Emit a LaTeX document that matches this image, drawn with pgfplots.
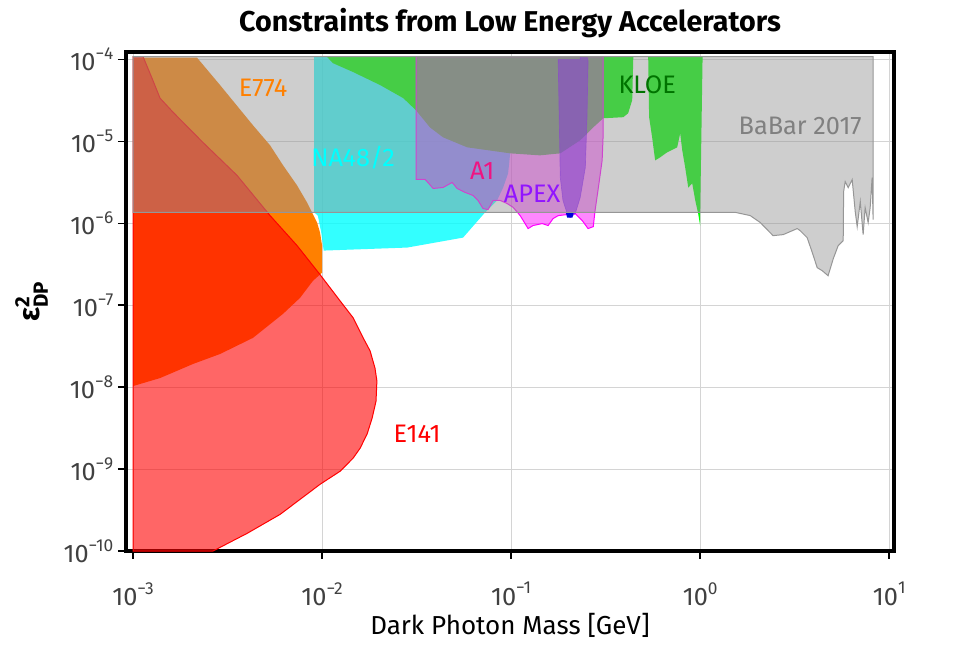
\documentclass[border=0pt]{standalone}
\usepackage{amsmath}
\usepackage{fontspec}
\setmainfont{Fira Sans}
\usepackage{pgfplots}
\pgfplotsset{compat=1.18}
\usetikzlibrary{calc}

\definecolor{cE774}{RGB}{255,128,0}
\definecolor{cNA}{RGB}{0,255,255}
\definecolor{cKLOE}{RGB}{0,255,0}
\definecolor{cKLOEtxt}{RGB}{0,115,0}
\definecolor{cA1}{RGB}{255,0,255}
\definecolor{cA1txt}{RGB}{240,20,130}
\definecolor{cAPEX}{RGB}{128,0,255}
\definecolor{cAPEXtxt}{RGB}{145,20,255}
\definecolor{cBaBar}{RGB}{150,150,150}
\definecolor{cBaBartxt}{RGB}{128,128,128}

% decade labels 10^n set in the text font
\newcommand\logexp{\pgfmathtruncatemacro\ex{round(\tick)}10\raisebox{0.45em}{\fontsize{13}{14}\selectfont\ifnum\ex<0 −\the\numexpr-\ex\relax\else\ex\fi}}

\begin{document}
\begin{tikzpicture}
\begin{axis}[
  scale only axis, width=576pt, height=374.25pt,
  xmode=log, ymode=log, log basis x=10, log basis y=10,
  xmin=9.18e-4, xmax=10.6, ymin=1e-10, ymax=1.23e-4,
  xtick={1e-3,1e-2,1e-1,1,10},
  ytick={1e-10,1e-9,1e-8,1e-7,1e-6,1e-5,1e-4},
  xticklabel={\logexp}, yticklabel={\logexp},
  tick label style={font=\fontsize{19}{21}\selectfont, text=black!75},
  xticklabel style={yshift=-14pt},
  xtick pos=bottom, ytick pos=left, tick align=outside,
  major tick length=6pt, minor tick length=3.5pt,
  every tick/.style={black, line width=1.1pt},
  axis line style={line width=3pt, black},
  grid=major, major grid style={line width=0.75pt, draw=black!17},
  title={Constraints from Low Energy Accelerators},
  title style={font=\fontsize{21.5}{24}\selectfont\bfseries, at={(axis description cs:0.5,1)}, anchor=base, yshift=9.5pt},
  xlabel={Dark Photon Mass [GeV]},
  xlabel style={font=\fontsize{19.5}{22}\selectfont, at={(axis description cs:0.5,-0.168)}, anchor=base},
  ylabel={\bfseries ε$^{\text{\bfseries 2}}_{\text{\bfseries DP}}$},
  ylabel style={font=\fontsize{22}{24}\selectfont, at={(axis description cs:-0.123,0.5)}, anchor=center},
]

% E774
\addplot[fill=cE774, draw=none] coordinates {
  (1e-3,1.05e-4) (2.18e-3,1.05e-4) (2.89e-3,4.84e-5) (4.31e-3,1.57e-5) (5.31e-3,8.93e-6)
  (6.22e-3,5.09e-6) (7.38e-3,2.89e-6) (8.33e-3,1.79e-6) (9.41e-3,1.02e-6) (9.76e-3,7.69e-7)
  (1.0e-2,5.35e-7) (1.0e-2,2.49e-7) (8.96e-3,1.99e-7) (7.65e-3,1.23e-7) (6.22e-3,7.85e-8)
  (4.31e-3,3.99e-8) (2.89e-3,2.54e-8) (2.08e-3,1.92e-8) (1.39e-3,1.29e-8) (1e-3,1.03e-8)
} -- cycle;

% E141
\addplot[fill=red, fill opacity=0.6, draw=red, line width=0.75pt] coordinates {
  (1e-3,1.08e-4) (1.13e-3,1.08e-4) (1.26e-3,5.9e-5) (1.39e-3,3.36e-5) (1.63e-3,2.26e-5)
  (2.34e-3,9.72e-6) (3.55e-3,3.84e-6) (5.31e-3,1.24e-6) (7.38e-3,5.33e-7) (9.76e-3,2.36e-7)
  (1.245e-2,1.13e-7) (1.46e-2,7.02e-8) (1.65e-2,3.99e-8) (1.795e-2,2.77e-8) (1.905e-2,1.71e-8)
  (1.95e-2,1.19e-8) (1.93e-2,6.76e-9) (1.84e-2,4.19e-9) (1.73e-2,2.67e-9) (1.59e-2,1.8e-9)
  (1.46e-2,1.36e-9) (1.245e-2,9.4e-10) (9.76e-3,6.52e-10) (7.65e-3,4.27e-10) (6.0e-3,2.8e-10)
  (4.01e-3,1.64e-10) (2.65e-3,1e-10) (1e-3,1e-10)
} -- cycle;

% NA48/2
\addplot[fill=cNA, fill opacity=0.8, draw=none] coordinates {
  (9.08e-3,1.08e-4) (9.89e-2,1.08e-4) (9.89e-2,7.13e-6) (9.64e-2,4.06e-6) (9.08e-2,2.73e-6)
  (8.43e-2,1.9e-6) (7.27e-2,1.35e-6) (5.57e-2,6.68e-7) (2.82e-2,5.05e-7) (1.02e-2,4.64e-7)
  (9.9e-3,7.69e-7) (9.5e-3,1.24e-6) (9.08e-3,1.36e-6)
} -- cycle;

% KLOE
\addplot[fill=cKLOE, draw=none] coordinates {
  (1.06e-2,1.08e-4) (1.14e-2,9.0e-5) (1.46e-2,7.0e-5) (2.03e-2,4.85e-5) (2.69e-2,3.36e-5)
  (3.14e-2,2.39e-5) (3.72e-2,1.48e-5) (4.36e-2,1.12e-5) (5.85e-2,8.45e-6) (9.89e-2,7.13e-6)
  (0.142,6.74e-6) (0.182,7.13e-6) (0.232,1.03e-5) (0.272,1.48e-5) (0.307,1.91e-5)
  (0.392,1.97e-5) (0.416,2.2e-5) (0.437,3.18e-5) (0.443,1.08e-4)
} -- cycle;
\addplot[fill=cKLOE, draw=none] coordinates {
  (0.531,1.08e-4) (0.537,1.97e-5) (0.557,1.12e-5) (0.578,5.85e-6) (0.614,6.37e-6)
  (0.668,7.33e-6) (0.756,8.45e-6) (0.784,1.25e-5) (0.804,7.76e-6) (0.833,4.81e-6)
  (0.865,2.73e-6) (0.908,3.06e-6) (0.942,1.9e-6) (0.976,1.31e-6) (1.0,9.38e-7)
  (1.0,1.31e-6) (1.03,1.08e-4)
} -- cycle;

% A1
\addplot[fill=cA1, fill opacity=0.47, draw=cA1, line width=0.75pt] coordinates {
  (3.14e-2,1.08e-4) (3.14e-2,3.43e-6) (3.51e-2,3.43e-6) (3.87e-2,2.66e-6) (4.36e-2,2.73e-6)
  (4.88e-2,3.15e-6) (5.18e-2,2.66e-6) (5.71e-2,2.38e-6) (6.30e-2,2.18e-6) (6.68e-2,1.9e-6)
  (7.11e-2,1.51e-6) (7.55e-2,1.47e-6) (8.04e-2,1.9e-6) (8.75e-2,1.9e-6) (9.53e-2,1.74e-6)
  (0.1026,1.56e-6) (0.1117,1.24e-6) (0.123,8.61e-7) (0.1306,9.38e-7) (0.146,9.91e-7)
  (0.157,9.38e-7) (0.1667,1.14e-6) (0.1774,1.24e-6) (0.2183,1.31e-6) (0.2377,1.08e-6)
  (0.2553,8.61e-7) (0.272,9.1e-7) (0.278,1.43e-6) (0.288,2.51e-6) (0.303,5.85e-6)
  (0.307,1.25e-5) (0.307,1.08e-4)
} -- cycle;

% APEX
\addplot[fill=cAPEX, fill opacity=0.6, draw=cAPEX, draw opacity=0.6, line width=0.5pt] coordinates {
  (0.1774,1.0e-4) (0.232,1.0e-4) (0.232,1.08e-4) (0.252,1.08e-4) (0.2553,9.5e-5)
  (0.252,1.97e-5) (0.247,4.81e-6) (0.232,2.06e-6) (0.2183,1.31e-6) (0.205,1.17e-6)
  (0.198,1.31e-6) (0.188,1.9e-6) (0.182,3.62e-6)
} -- cycle;
\addplot[fill=blue!85!black, draw=none] coordinates {
  (0.195,1.33e-6) (0.214,1.33e-6) (0.211,1.17e-6) (0.198,1.17e-6)
} -- cycle;

% BaBar 2017
\addplot[fill=cBaBar, fill opacity=0.47, draw=cBaBar, line width=0.75pt] coordinates {
  (1e-3,1.08e-4) (1e-3,1.36e-6) (1.53,1.36e-6) (1.84,1.24e-6) (2.08,1.02e-6) (2.43,7.06e-7)
  (2.75,7.27e-7) (3.26,8.61e-7) (3.38,8.13e-7) (3.68,6.68e-7) (3.92,4.38e-7) (4.16,2.87e-7)
  (4.42,2.64e-7) (4.75,2.29e-7) (5.06,3.7e-7) (5.37,5.33e-7) (5.71,6.14e-7) (5.74,2.43e-6)
  (5.85,3.23e-6) (6.07,2.72e-6) (6.37,3.41e-6) (6.61,1.39e-6) (6.77,9.09e-7) (7.03,1.84e-6)
  (7.28,7.26e-7) (7.46,1.55e-6) (7.74,1.02e-6) (7.93,1.55e-6) (8.12,3.6e-6) (8.22,1.11e-6)
  (8.22,1.08e-4)
} -- cycle;

\begin{scope}[every node/.style={font=\fontsize{19}{21}\selectfont}]
\node[text=cE774] at (axis cs:4.88e-3,4.46e-5) {E774};
\node[text=cNA] at (axis cs:1.46e-2,6.37e-6) {NA48/2};
\node[text=cA1txt] at (axis cs:7.03e-2,4.41e-6) {A1};
\node[text=cAPEXtxt] at (axis cs:0.129,2.31e-6) {APEX};
\node[text=cKLOEtxt] at (axis cs:0.525,4.84e-5) {KLOE};
\node[text=cBaBartxt] at (axis cs:3.38,1.53e-5) {BaBar 2017};
\node[text=red] at (axis cs:3.18e-2,2.67e-9) {E141};
\end{scope}
\end{axis}
\pgfresetboundingbox
\path[use as bounding box] ($(current axis.south west)+(-94.5pt,-78pt)$) rectangle ($(current axis.north east)+(51.75pt,39pt)$);
\end{tikzpicture}
\end{document}
